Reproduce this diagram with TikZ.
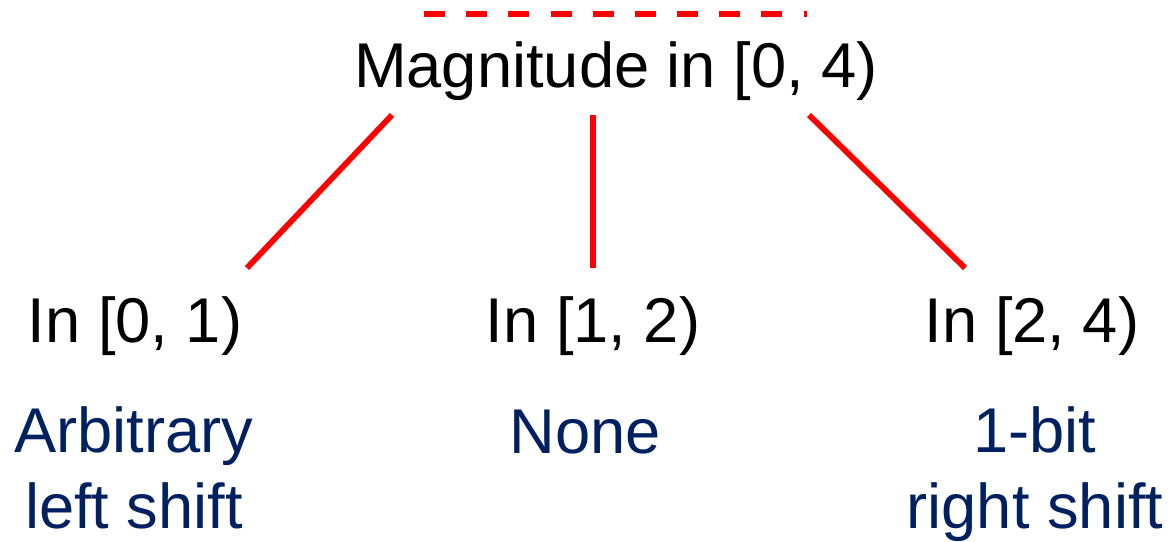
\documentclass[tikz,border=0pt]{standalone}
\usepackage{fontspec}
\setmainfont{Liberation Sans}
\usetikzlibrary{calc}
\definecolor{navy}{RGB}{0,32,96}
\tikzset{
  branch/.style = {draw, red, line width = 3.3pt},
  lbl/.style = {anchor = base, inner sep = 0pt, font = \fontsize{36}{42.7}\selectfont},
  note/.style = {lbl, text = navy, align = center},
}

\begin{document}
\begin{tikzpicture}[x = 0.02cm, y = -0.02cm]
        \useasboundingbox(0,0)rectangle(1172,541);
        % dashed top
        \coordinate(d1)at(424,14);
        \coordinate(d2)at(807,14);
        \path[draw, red, line width = 3.2pt, dash pattern = on 12pt off 12pt](d1)to(d2);
        % root
        \node[lbl](mag)at(616,87){Magnitude in [0, 4)};
        % leaves
        \node[lbl](in1)at(135,342){In [0, 1)};
        \node[lbl](in2)at(593,342){In [1, 2)};
        \node[lbl](in3)at(1032,342){In [2, 4)};
        % branches
        \coordinate(t1)at(392,115);
        \coordinate(b1)at(247,268);
        \coordinate(t2)at(593,115);
        \coordinate(b2)at(593,268);
        \coordinate(t3)at(809,115);
        \coordinate(b3)at(965,268);
        \path[branch](t1)to(b1);
        \path[branch](t2)to(b2);
        \path[branch](t3)to(b3);
        % shifts (base = last line)
        \node[note](sh1)at(134,528){Arbitrary\\left shift};
        \node[note](sh2)at(585,453){None};
        \node[note](sh3)at(1035,528){1-bit\\right shift};
    \end{tikzpicture}
\end{document}
